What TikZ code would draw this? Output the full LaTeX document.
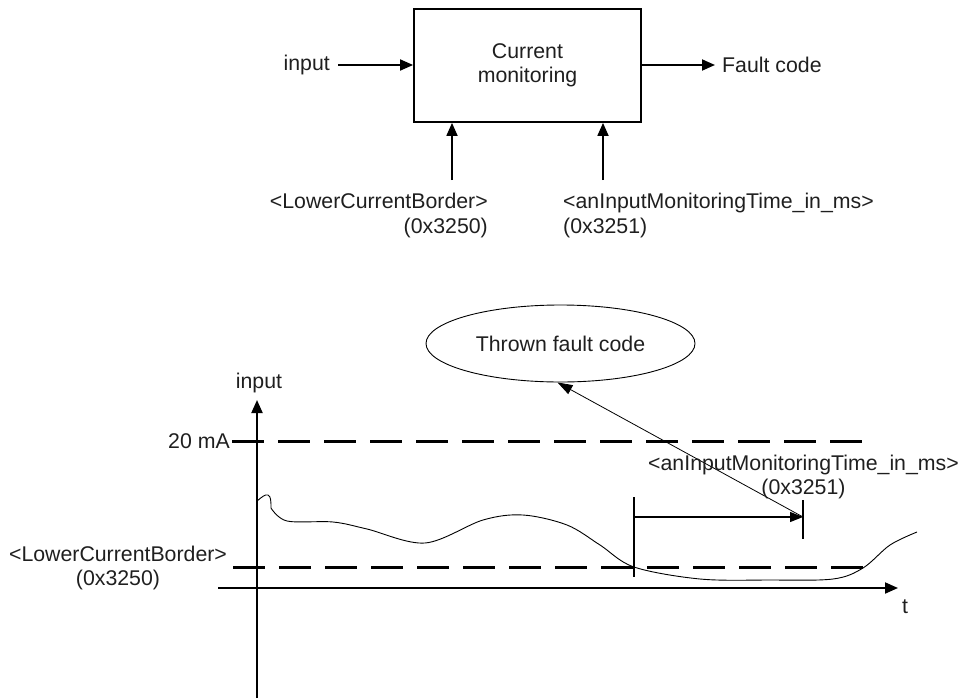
\documentclass[tikz,border=0pt]{standalone}
\usepackage{fontspec}
\setmainfont{Liberation Sans}
\usetikzlibrary{arrows.meta,shapes.geometric,calc}
\begin{document}
\begin{tikzpicture}[x=1pt,y=-1pt,
  lbl/.style={font=\fontsize{21.3}{24.5}\selectfont, inner sep=0pt, text=black!88},
  thickarr/.style={line width=1.8pt,-{Triangle[length=13pt,width=11pt]}},
  thinarr/.style={line width=1.2pt,-{Triangle[length=13pt,width=10pt]}},
  limitline/.style={line width=3pt,dash pattern=on 32pt off 14pt},
  axis/.style={line width=2pt,-{Triangle[length=13pt,width=11pt]}},
  bar/.style={line width=2pt},
  signal/.style={line width=0.9pt}]
\useasboundingbox (0,0) rectangle (961,699);

% ---------- block diagram ----------
\node[draw, line width=1.8pt, minimum width=227pt, minimum height=113pt, inner sep=0pt,
      lbl, align=center] (box) at (527.5,65.5) {Current\\monitoring};
\node[lbl, anchor=east] (in) at (330,65) {input};
\node[lbl, anchor=west] (fc) at (722,65) {Fault code};
\draw[thickarr] (in.east) ++(8pt,0) coordinate (ins) -- (box.west |- ins);
\draw[thickarr] (box.east |- fc.west) -- ($(fc.west)+(-7pt,0)$) coordinate (fce);

\coordinate (p1) at (452,180);
\coordinate (p2) at (603,180);
\draw[thickarr] (p1) -- (p1 |- box.south);
\draw[thickarr] (p2) -- (p2 |- box.south);

\node[lbl, anchor=north east, align=right] (lcb) at (488,193)
  {<LowerCurrentBorder>\\(0x3250)};
\node[lbl, anchor=north west, align=left] (aimt) at (563,193)
  {<anInputMonitoringTime\_in\_ms>\\(0x3251)};

% ---------- timing diagram ----------
\node[draw, ellipse, line width=0.9pt, minimum width=269pt, minimum height=77pt,
      inner sep=0pt, lbl] (ell) at (560.5,343.5) {Thrown fault code};

\coordinate (yb) at (257,698);
\coordinate (yt) at (257,400);
\coordinate (xl) at (218,588);
\coordinate (xr) at (898,588);
\draw[axis] (yb) -- (yt);
\draw[axis] (xl) -- (xr);
\node[lbl] (ylab) at (259,383) {input};
\node[lbl] (tlab) at (905,607) {t};

\node[lbl, anchor=east] (ma) at (230,441) {20 mA};
\node[lbl, align=center] (lcb2) at (118,568) {<LowerCurrentBorder>\\(0x3250)};

\coordinate (h1) at (232,441);
\coordinate (h2) at (863,441);
\coordinate (l1) at (233,567);
\coordinate (l2) at (863,567);
\draw[limitline] (h1) -- (h2);
\draw[limitline] (l1) -- (l2);

% signal
\draw[signal] (257,501) .. controls (262,497) and (265,494) .. (268,495)
  .. controls (271,496) and (271,502) .. (271,508)
  plot[smooth, tension=0.55] coordinates {(271,508) (287,521) (333,522) (367,529) (425,543) (483,520) (523,515) (567,525) (600,545) (634,567) (700,579) (770,580) (833,579) (863,568) (890,545) (917,532)};

% monitoring time
\coordinate (ts) at (634,517);
\coordinate (te) at (803,517);
\draw[bar] (634,497) -- (634,577);
\draw[bar] (803,500) -- (803,539);
\draw[thinarr] (ts) -- (te);
\draw[line width=0.8pt,-{Triangle[length=15pt,width=10pt]}] (te) -- ($(ell.south)+(-3pt,0)$);

\node[lbl, align=center] (aimt2) at (803.5,477)
  {<anInputMonitoringTime\_in\_ms>\\(0x3251)};
\end{tikzpicture}
\end{document}
